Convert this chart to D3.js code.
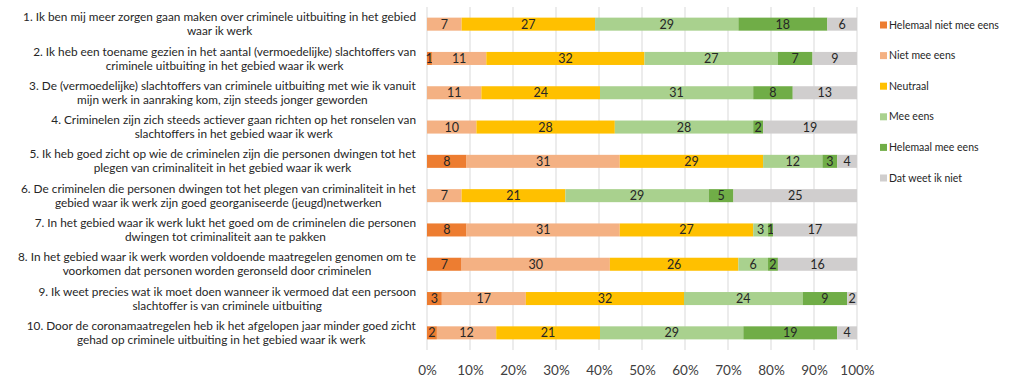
<!DOCTYPE html>
<html>
<head>
<meta charset="utf-8">
<script src="https://cdn.jsdelivr.net/npm/d3@7"></script>
<style>
  body { margin: 0; background: #fff; }
  text { font-family: Lato, "Open Sans", sans-serif; }
</style>
</head>
<body>
<div id="chart"></div>
<script>
// Statements (each split into two lines as in the original)
const statements = [
  ["1. Ik ben mij meer zorgen gaan maken over criminele uitbuiting in het gebied", "waar ik werk"],
  ["2. Ik heb een toename gezien in het aantal (vermoedelijke) slachtoffers van", "criminele uitbuiting in het gebied waar ik werk"],
  ["3. De (vermoedelijke) slachtoffers van criminele uitbuiting met wie ik vanuit", "mijn werk in aanraking kom, zijn steeds jonger geworden"],
  ["4. Criminelen zijn zich steeds actiever gaan richten op het ronselen van", "slachtoffers in het gebied waar ik werk"],
  ["5. Ik heb goed zicht op wie de criminelen zijn die personen dwingen tot het", "plegen van criminaliteit in het gebied waar ik werk"],
  ["6. De criminelen die personen dwingen tot het plegen van criminaliteit in het", "gebied waar ik werk zijn goed georganiseerde (jeugd)netwerken"],
  ["7. In het gebied waar ik werk lukt het goed om de criminelen die personen", "dwingen tot criminaliteit aan te pakken"],
  ["8. In het gebied waar ik werk worden voldoende maatregelen genomen om te", "voorkomen dat personen worden geronseld door criminelen"],
  ["9. Ik weet precies wat ik moet doen wanneer ik vermoed dat een persoon", "slachtoffer is van criminele uitbuiting"],
  ["10. Door de coronamaatregelen heb ik het afgelopen jaar minder goed zicht", "gehad op criminele uitbuiting in het gebied waar ik werk"]
];

const answers = ["Helemaal niet mee eens", "Niet mee eens", "Neutraal", "Mee eens", "Helemaal mee eens", "Dat weet ik niet"];
const colors = ["#ed7d31", "#f4b183", "#ffc000", "#a9d18e", "#70ad47", "#d0cece"];

// Counts per answer (same order as answers)
const helemaalNiet = [0, 1, 0, 0, 8, 0, 8, 7, 3, 2];
const nietMee      = [7, 11, 11, 10, 31, 7, 31, 30, 17, 12];
const neutraal     = [27, 32, 24, 28, 29, 21, 27, 26, 32, 21];
const meeEens      = [29, 27, 31, 28, 12, 29, 3, 6, 24, 29];
const helemaalMee  = [18, 7, 8, 2, 3, 5, 1, 2, 9, 19];
const weetNiet     = [6, 9, 13, 19, 4, 25, 17, 16, 2, 4];

const tickValues = [0, 0.1, 0.2, 0.3, 0.4, 0.5, 0.6, 0.7, 0.8, 0.9, 1];

const series = [helemaalNiet, nietMee, neutraal, meeEens, helemaalMee, weetNiet];

const rows = statements.map((s, i) => {
  const row = { id: i };
  answers.forEach((a, k) => { row[a] = series[k][i]; });
  return row;
});

const W = 1009, H = 380;
const plot = { left: 427, right: 857, top: 7, bottom: 350 };

const svg = d3.select("#chart").append("svg")
  .attr("width", W)
  .attr("height", H);

const x = d3.scaleLinear().domain([0, 1]).range([plot.left, plot.right]);
const y = d3.scaleBand()
  .domain(rows.map(d => d.id))
  .range([plot.top, plot.bottom])
  .paddingInner(0.62)
  .paddingOuter(0.31);

// Gridlines
svg.append("g")
  .selectAll("line")
  .data(tickValues)
  .join("line")
  .attr("x1", d => x(d)).attr("x2", d => x(d))
  .attr("y1", plot.top).attr("y2", plot.bottom)
  .attr("stroke", "#d9d9d9")
  .attr("stroke-width", 1);

// Stack normalised to 100%
const stack = d3.stack().keys(answers).offset(d3.stackOffsetExpand);
const stacked = stack(rows);

const layers = svg.append("g")
  .selectAll("g")
  .data(stacked)
  .join("g")
  .attr("fill", (d, i) => colors[i]);

layers.selectAll("rect")
  .data(d => d)
  .join("rect")
  .attr("x", d => x(d[0]))
  .attr("width", d => x(d[1]) - x(d[0]))
  .attr("y", d => y(d.data.id))
  .attr("height", y.bandwidth());

// Value labels
layers.each(function (layer) {
  d3.select(this).selectAll("text")
    .data(layer.filter(d => d.data[layer.key] > 0))
    .join("text")
    .attr("x", d => (x(d[0]) + x(d[1])) / 2)
    .attr("y", d => y(d.data.id) + y.bandwidth() / 2)
    .attr("dy", "0.36em")
    .attr("text-anchor", "middle")
    .attr("font-size", "12.5px")
    .attr("fill", "#262626")
    .text(d => d.data[layer.key]);
});

// X axis
const xAxis = svg.append("g")
  .attr("transform", `translate(0,${plot.bottom})`)
  .call(d3.axisBottom(x).tickValues(tickValues).tickFormat(d3.format(".0%")).tickSize(0).tickPadding(15));
xAxis.select(".domain").remove();
xAxis.selectAll("text")
  .attr("font-size", "13.5px")
  .attr("fill", "#404040")
  .style("font-family", "Lato, 'Open Sans', sans-serif");

// Category labels: two centred lines, block right-aligned against the plot
const labelRight = 416;
const labels = svg.append("g");
rows.forEach((row, i) => {
  const g = labels.append("g");
  const cy = y(row.id) + y.bandwidth() / 2;
  const t = g.append("text")
    .attr("text-anchor", "middle")
    .attr("font-size", "11.8px")
    .attr("fill", "#262626");
  statements[i].forEach((line, j) => {
    t.append("tspan")
      .attr("x", 0)
      .attr("y", cy + (j - 0.5) * 14)
      .attr("dy", "0.35em")
      .text(line);
  });
  const bw = t.node().getBBox().width;
  t.attr("transform", `translate(${labelRight - bw / 2},0)`);
});

// Legend
const legend = svg.append("g")
  .attr("transform", "translate(880,25)");
const item = legend.selectAll("g")
  .data(answers)
  .join("g")
  .attr("transform", (d, i) => `translate(0,${i * 30.6})`);
item.append("rect")
  .attr("x", 0).attr("y", -3.5)
  .attr("width", 7).attr("height", 7)
  .attr("fill", (d, i) => colors[i]);
item.append("text")
  .attr("x", 9)
  .attr("dy", "0.35em")
  .attr("font-size", "10.5px")
  .attr("fill", "#262626")
  .text(d => d);
</script>
</body>
</html>
